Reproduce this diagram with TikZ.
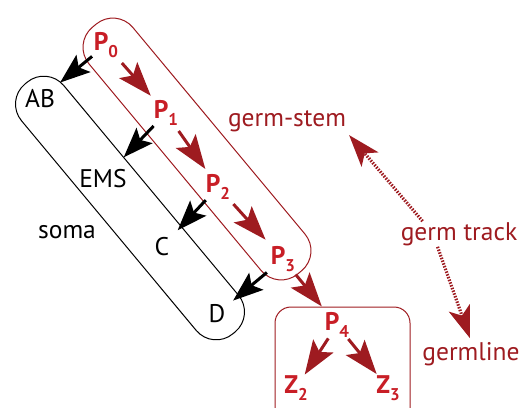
\documentclass[tikz,border=0pt]{standalone}
\usepackage{fontspec}
\setmainfont{PT Sans}
\usetikzlibrary{arrows.meta}
\definecolor{germred}{RGB}{158,27,32}
\definecolor{cellred}{RGB}{200,30,38}
\newcommand{\cellsub}[1]{\raisebox{-0.28em}{\fontsize{17}{17}\selectfont #1}}

\begin{document}
\begin{tikzpicture}[x=1pt,y=-1pt,
 lbl/.style={font=\fontsize{25.5}{30}\selectfont, inner sep=1pt},
 pcell/.style={inner sep=1pt, text=cellred, font=\fontsize{25.5}{30}\selectfont\bfseries},
 track/.style={lbl, text=germred},
 capsule/.style={draw, line width=1pt, rounded corners=26pt, minimum height=#1, rotate=-50.2},
 germdiv/.style={draw=germred, line width=3pt, arrows={-Stealth[length=34pt,width=24pt,inset=7pt]}},
 somadiv/.style={draw=black, line width=3pt, arrows={-Stealth[length=30pt,width=22pt,inset=6pt]}},
 hint/.style={draw=germred, line width=3.2pt, dash pattern=on 1.5pt off 1.4pt,
   arrows={-Stealth[length=32pt,width=22pt,inset=8pt]}}]

 \useasboundingbox (0,0) rectangle (522,407);

 % lineages
 \node[capsule=57pt, germred, minimum width=321pt] (germcap) at (197,149) {};
 \node[capsule=55pt, minimum width=325pt] (somacap) at (130,208) {};
 \draw[germred, line width=1pt, rounded corners=16pt] (275,307) -- (275,430) -- (410,430) -- (410,307) -- cycle;

 % cells
 \node[pcell] (P0) at (106,45) {P\cellsub{0}};
 \node[pcell] (P1) at (166,113) {P\cellsub{1}};
 \node[pcell] (P2) at (218,187) {P\cellsub{2}};
 \node[pcell] (P3) at (283,259) {P\cellsub{3}};
 \node[pcell] (P4) at (337,325) {P\cellsub{4}};
 \node[pcell] (Z2) at (296,388) {Z\cellsub{2}};
 \node[pcell] (Z3) at (388,388) {Z\cellsub{3}};

 \node[lbl] (AB) at (40,99) {AB};
 \node[lbl] (EMS) at (103,179) {EMS};
 \node[lbl] (C) at (162,247) {C};
 \node[lbl] (D) at (217,314) {D};
 \node[lbl] (soma) at (67,232) {soma};

 \node[track] (gstem) at (287,121) {germ-stem};
 \node[track] (gtrack) at (459,234) {germ track};
 \node[track] (gline) at (471,354) {germline};

 % divisions
 \draw[germdiv, shorten <=24pt, shorten >=23pt] (P0.center) -- (P1.center);
 \draw[germdiv, shorten <=22pt, shorten >=22pt] (P1.center) -- (P2.center);
 \draw[germdiv, shorten <=23pt, shorten >=26pt] (P2.center) -- (P3.center);
 \draw[germdiv, shorten <=20pt, shorten >=24pt] (P3.center) -- (P4.center);
 \draw[germdiv, shorten <=16pt, shorten >=16pt] (P4.center) -- (Z2.center);
 \draw[germdiv, shorten <=18pt, shorten >=18pt] (P4.center) -- (Z3.center);

 \draw[somadiv, shorten <=18pt, shorten >=26pt] (P0.center) -- (AB.center);
 \draw[somadiv, shorten <=18pt, shorten >=30pt] (P1.center) -- (EMS.center);
 \draw[somadiv, shorten <=18pt, shorten >=23pt] (P2.center) -- (C.center);
 \draw[somadiv, shorten <=21pt, shorten >=21pt] (P3.center) -- (D.center);

 \draw[hint, shorten >=3pt] ([xshift=23pt]gtrack.north west) -- (gstem.south east);
 \draw[hint, shorten >=3pt] ([xshift=38pt]gtrack.south west) -- (gline.north);

\end{tikzpicture}
\end{document}
